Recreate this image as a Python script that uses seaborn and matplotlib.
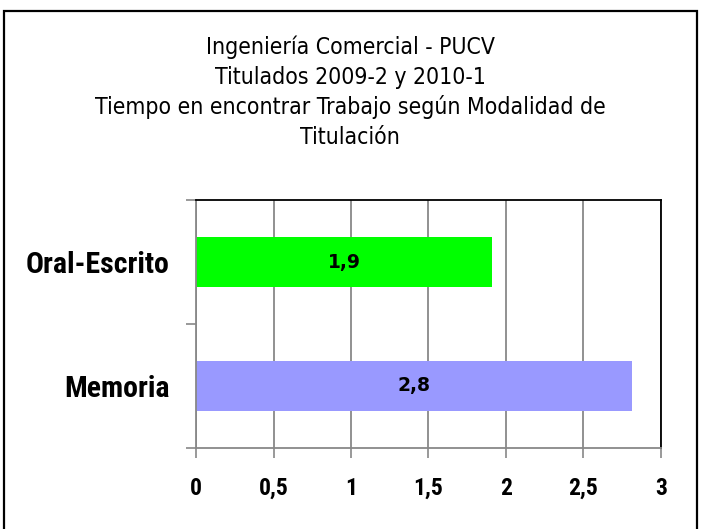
import matplotlib
matplotlib.use('Agg')
import matplotlib.pyplot as plt
import seaborn as sns
from matplotlib.patches import Rectangle
from matplotlib.ticker import FixedLocator

# Data
categories = ['Oral-Escrito', 'Memoria']
values = [1.91, 2.81]
value_labels = ['1,9', '2,8']
bar_colors = ['#00FF00', '#9999FF']
x_ticks = [0, 0.5, 1, 1.5, 2, 2.5, 3]
x_tick_labels = ['0', '0,5', '1', '1,5', '2', '2,5', '3']
title_lines = ['Ingeniería Comercial - PUCV',
               'Titulados 2009-2 y 2010-1',
               'Tiempo en encontrar Trabajo según Modalidad de',
               'Titulación']

sns.set_style('white')
plt.rcParams['font.family'] = ['DejaVu Sans']
plt.rcParams['text.color'] = 'black'
tick_font = ['Roboto Condensed', 'DejaVu Sans']

fig = plt.figure(figsize=(7.02, 5.29), dpi=100)
ax = fig.add_axes([196/702, 1 - 448/529, (661-196)/702, (448-200)/529])

sns.barplot(x=values, y=categories, hue=categories, palette=bar_colors,
            orient='h', width=0.4, legend=False, ax=ax, saturation=1,
            linewidth=0)

ax.set_xlim(0, 3)
ax.set_ylim(1.5, -0.5)
ax.set_xticks(x_ticks)
ax.set_xticklabels(x_tick_labels, fontsize=17, fontweight='bold', family=tick_font, color='black')
ax.set_yticks(range(len(categories)))
ax.set_yticklabels(categories, fontsize=21.5, fontweight='bold', family=tick_font, color='black')
ax.yaxis.set_minor_locator(FixedLocator([-0.5, 0.5, 1.5]))
ax.tick_params(axis='y', which='major', length=0, pad=19)
ax.tick_params(axis='y', which='minor', length=7, color='#888888', width=1.2, direction='out', left=True)
ax.tick_params(axis='x', length=7, color='#888888', width=1.2, direction='out', bottom=True, pad=14)
ax.set_xlabel('')
ax.set_ylabel('')

ax.grid(axis='x', color='#888888', linewidth=1.3)
ax.set_axisbelow(True)
for side in ['left', 'bottom']:
    ax.spines[side].set_color('#888888')
    ax.spines[side].set_linewidth(1.3)
for side in ['top', 'right']:
    ax.spines[side].set_color('black')
    ax.spines[side].set_linewidth(1.3)

for patch, lab in zip(ax.patches, value_labels):
    w = patch.get_width()
    y = patch.get_y() + patch.get_height() / 2
    ax.text(w / 2, y, lab, ha='center', va='center', fontsize=13.5, fontweight='bold', color='black')

title_y = [47, 77, 107, 137]
for line, yy in zip(title_lines, title_y):
    fig.text(350/702, 1 - yy/529, line, ha='center', va='center', fontsize=16.5,
             fontstretch='condensed', color='black')

fig.add_artist(Rectangle((4/702, -0.1), 693/702, 1.1 - 11/529, transform=fig.transFigure,
                         fill=False, edgecolor='black', linewidth=1.6))

fig.savefig('out.png', dpi=100)
